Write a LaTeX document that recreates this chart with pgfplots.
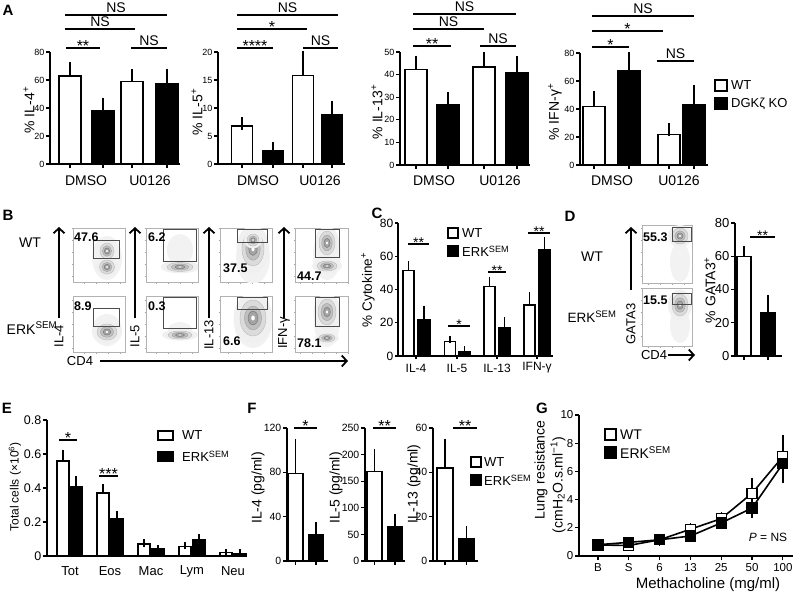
\documentclass[border=0pt]{standalone}
\usepackage{pgfplots}
\pgfplotsset{compat=1.18}
\usepackage{fontspec}
\setmainfont{Liberation Sans}
\usetikzlibrary{arrows.meta}
\newcommand{\fs}[1]{\fontsize{#1}{#1}\selectfont}
\pgfplotsset{
 gp/.style={scale only axis, clip=false, anchor=south west,
   axis x line*=bottom, axis y line*=left,
   axis line style={line width=1.6pt,-},
   tick style={line width=1.3pt,black},
   tick align=outside, major tick length=4pt,
   /pgf/number format/assume math mode=true,
   ymin=0, yticklabel style={inner sep=1.5pt}},
 wt/.style={ybar, bar shift=0pt, bar width=#1, draw=black, fill=white, line width=1.5pt,
   error bars/y dir=plus, error bars/y explicit,
   error bars/error bar style={line width=1.5pt,black,solid},
   error bars/error mark options={mark size={0.3*#1}, line width=1.5pt, black}},
 ko/.style={wt=#1, fill=black},
 flow/.style={scale only axis, anchor=south west,
   axis line style={line width=0.5pt, draw=gray!60},
   xtick distance=12, ytick distance=12, xticklabels={}, yticklabels={},
   xtick pos=left, ytick pos=left,
   tick style={gray!70, line width=0.5pt}, tick align=outside, major tick length=1.5pt},
}
\tikzset{bigarrow/.style={line width=1.8pt, -{Straight Barb[length=5pt,width=11pt,line width=1.8pt]}}}
% text helpers (pixel coordinates, y downwards)
\newcommand{\T}[4]{\node[font=\fs{#3}, inner sep=0pt] at (#1pt,-#2pt) {#4};}
\newcommand{\TB}[4]{\node[font=\fs{#3}\bfseries, inner sep=0pt] at (#1pt,-#2pt) {#4};}
\newcommand{\TL}[4]{\node[font=\fs{#3}, inner sep=0pt, anchor=west] at (#1pt,-#2pt) {#4};}
\newcommand{\TLB}[4]{\node[font=\fs{#3}\bfseries, inner sep=0pt, anchor=west] at (#1pt,-#2pt) {#4};}
\newcommand{\TR}[4]{\node[font=\fs{#3}, inner sep=0pt, rotate=90] at (#1pt,-#2pt) {#4};}
\newcommand{\sigNS}[4]{\draw[line width=1.5pt] (#1pt,-#3pt) -- (#2pt,-#3pt);
  \node[font=\fs{14}, anchor=base, inner sep=0pt] at ({(#1+#2)/2*1pt},{(-#3+3)*1pt}) {#4};}
\newcommand{\sigA}[5]{\draw[line width=1.5pt] (#1pt,-#3pt) -- (#2pt,-#3pt);
  \node[font=\fs{#4}, anchor=base, inner sep=0pt] at ({(#1+#2)/2*1pt},{(-#3+3-0.43*#4)*1pt}) {#5};}
\newcommand{\lbox}[5]{\draw[line width=1.3pt, fill=#5] (#1pt,-#2pt) rectangle (#3pt,-#4pt);}
% flow cytometry helpers
\newcommand{\blob}[4]{%
  \fill[gray!12] (axis cs:#1,-#2) ellipse [x radius={1.5*#3pt}, y radius={1.4*#4pt}];
  \filldraw[draw=gray!55, fill=gray!28, line width=0.4pt] (axis cs:#1,-#2) ellipse [x radius={#3pt}, y radius={#4pt}];
  \filldraw[draw=gray!75, fill=gray!50, line width=0.4pt] (axis cs:#1,-#2) ellipse [x radius={0.66*#3pt}, y radius={0.66*#4pt}];
  \filldraw[draw=gray!90!black, fill=gray!72, line width=0.4pt] (axis cs:#1,-#2) ellipse [x radius={0.38*#3pt}, y radius={0.38*#4pt}];
  \fill[white] (axis cs:#1,-#2) ellipse [x radius={0.14*#3pt}, y radius={0.14*#4pt}];}
\newcommand{\halo}[4]{\fill[gray!10] (axis cs:#1,-#2) ellipse [x radius={#3pt}, y radius={#4pt}];}
\newcommand{\gate}[4]{\addplot[draw=gray!60!black, line width=0.7pt] coordinates {(#1,-#2) (#3,-#2) (#3,-#4) (#1,-#4) (#1,-#2)};}

\begin{document}
\begin{tikzpicture}
\useasboundingbox (0pt,0pt) rectangle (800pt,-595pt);

% ================= A =================
\TB{8}{10}{15}{A}
% A1 IL-4
\begin{axis}[gp, at={(50pt,-164pt)}, width=130pt, height=112pt, xmin=50, xmax=180, ymax=80,
  ytick={0,20,40,60,80}, xtick={70,103,132,167}, xticklabels={}, tick label style={font=\fs{9}}]
\addplot[wt=22pt] coordinates {(70,63) +- (0,5) (132,59) +- (0,4)};
\addplot[ko=22pt] coordinates {(103,38) +- (0,4.5) (167,57.5) +- (0,6)};
\end{axis}
\TR{29}{110}{14}{\% IL-4\textsuperscript{+}}
\T{86}{181}{14}{DMSO} \T{150}{181}{14}{U0126}
\sigA{66}{100}{48}{16}{**}
\sigNS{131}{167}{48}{NS}
\sigNS{65}{135}{29}{NS}
\sigNS{65}{167}{15}{NS}

% A2 IL-5
\begin{axis}[gp, at={(218pt,-164pt)}, width=127pt, height=112pt, xmin=218, xmax=345, ymax=20,
  ytick={0,5,10,15,20}, xtick={242,273,303,332}, xticklabels={}, tick label style={font=\fs{9}}]
\addplot[wt=21pt] coordinates {(242,6.8) +- (0,0.4) (303,15.8) +- (0,3.2)};
\addplot[ko=21pt] coordinates {(273,2.4) +- (0,0.35) (332,8.8) +- (0,1.4)};
\end{axis}
\TR{197}{112}{14}{\% IL-5\textsuperscript{+}}
\T{258}{181}{14}{DMSO} \T{320}{181}{14}{U0126}
\sigA{237}{273}{48}{16}{****}
\sigNS{303}{338}{48}{NS}
\sigA{237}{307}{29}{16}{*}
\sigNS{237}{338}{15}{NS}

% A3 IL-13
\begin{axis}[gp, at={(400pt,-165pt)}, width=130pt, height=113pt, xmin=400, xmax=530, ymax=50,
  ytick={0,10,20,30,40,50}, xtick={416,448,484,517}, xticklabels={}, tick label style={font=\fs{9}}]
\addplot[wt=22pt] coordinates {(416,42.2) +- (0,3.3) (484,43.3) +- (0,3.7)};
\addplot[ko=22pt] coordinates {(448,26.6) +- (0,3) (517,41) +- (0,4.5)};
\end{axis}
\TR{377}{112}{14}{\% IL-13\textsuperscript{+}}
\T{434}{181}{14}{DMSO} \T{500}{181}{14}{U0126}
\sigA{413}{451}{46}{16}{**}
\sigNS{480}{516}{46}{NS}
\sigNS{413}{484}{29}{NS}
\sigNS{413}{516}{14}{NS}

% A4 IFN-g
\begin{axis}[gp, at={(580pt,-165pt)}, width=128pt, height=112pt, xmin=580, xmax=708, ymax=80,
  ytick={0,20,40,60,80}, xtick={594,629,669,694}, xticklabels={}, tick label style={font=\fs{9}}]
\addplot[wt=22pt] coordinates {(594,41.8) +- (0,6.2) (669,21.9) +- (0,3.5)};
\addplot[ko=22pt] coordinates {(629,67) +- (0,9) (694,42.8) +- (0,9.9)};
\end{axis}
\TR{555}{112}{14}{\% IFN-γ\textsuperscript{+}}
\T{612}{181}{14}{DMSO} \T{679}{181}{14}{U0126}
\sigA{592}{629}{47}{16}{*}
\sigNS{657}{694}{61}{NS}
\sigA{592}{663}{31}{16}{*}
\sigNS{592}{694}{16}{NS}
% A legend
\lbox{715}{80}{727}{91}{white} \TL{731}{85.5}{13}{WT}
\lbox{715}{98}{727}{109}{black} \TL{731}{103.5}{13}{DGKζ KO}

% ================= B =================
\TB{8}{215}{15}{B}
\T{30}{243}{14}{WT}
\T{32}{328}{14}{ERK\textsuperscript{SEM}}
% row 1
\begin{axis}[flow, at={(73pt,-282pt)}, width=52pt, height=54pt, xmin=73, xmax=125, ymin=-282, ymax=-228]
\halo{107}{258}{15}{22}
\blob{107}{251}{7}{8} \blob{107}{267}{7.5}{7}
\gate{93}{240}{119}{258}
\end{axis}
\begin{axis}[flow, at={(146pt,-282pt)}, width=52pt, height=54pt, xmin=146, xmax=198, ymin=-282, ymax=-228]
\halo{180}{250}{13}{16}
\blob{180}{267}{13}{4.5}
\gate{163}{229}{196}{261}
\end{axis}
\begin{axis}[flow, at={(220pt,-282pt)}, width=52pt, height=54pt, xmin=220, xmax=272, ymin=-282, ymax=-228]
\halo{253}{258}{17}{26}
\blob{253}{249}{11}{17} \blob{253}{240}{6}{6}
\gate{237}{229}{267}{242}
\end{axis}
\begin{axis}[flow, at={(295pt,-282pt)}, width=53pt, height=54pt, xmin=295, xmax=348, ymin=-282, ymax=-228]
\halo{327}{255}{14}{25}
\blob{327}{243}{8}{12} \blob{327}{266}{10}{5}
\gate{315}{229}{339}{257}
\end{axis}
% row 2
\begin{axis}[flow, at={(73pt,-352pt)}, width=52pt, height=56pt, xmin=73, xmax=125, ymin=-352, ymax=-296]
\halo{107}{330}{15}{16}
\blob{107}{332}{10}{8}
\gate{93}{308}{119}{326}
\end{axis}
\begin{axis}[flow, at={(146pt,-352pt)}, width=52pt, height=56pt, xmin=146, xmax=198, ymin=-352, ymax=-296]
\halo{180}{330}{12}{8}
\blob{180}{335}{12}{4}
\gate{163}{297}{196}{328}
\end{axis}
\begin{axis}[flow, at={(220pt,-352pt)}, width=52pt, height=56pt, xmin=220, xmax=272, ymin=-352, ymax=-296]
\halo{253}{322}{19}{26}
\blob{253}{318}{13}{18}
\gate{237}{297}{267}{309}
\end{axis}
\begin{axis}[flow, at={(295pt,-352pt)}, width=53pt, height=56pt, xmin=295, xmax=348, ymin=-352, ymax=-296]
\halo{327}{322}{13}{25}
\blob{327}{312}{9}{13} \blob{327}{338}{8}{4}
\gate{315}{297}{339}{326}
\end{axis}
\TLB{74}{237}{12.5}{47.6} \TLB{148}{237}{12.5}{6.2} \TLB{223}{268}{12.5}{37.5} \TLB{297}{276}{12.5}{44.7}
\TLB{74}{306}{12.5}{8.9} \TLB{148}{306}{12.5}{0.3} \TLB{223}{341}{12.5}{6.6} \TLB{297}{343}{12.5}{78.1}
\foreach \ax in {59,135,209,284}{\draw[bigarrow] (\ax pt,-318pt) -- (\ax pt,-227pt);}
\TR{59}{336}{13}{IL-4} \TR{135}{336}{13}{IL-5} \TR{209}{335}{13}{IL-13} \TR{284}{333}{13}{IFN-γ}
\T{80}{361}{13}{CD4}
\draw[bigarrow] (100pt,-361pt) -- (348pt,-361pt);

% ================= C =================
\TB{377}{213}{15}{C}
\begin{axis}[gp, at={(398pt,-356pt)}, width=155pt, height=133pt, xmin=398, xmax=553, ymax=80,
  ytick={0,20,40,60,80}, xtick={416,457,497,537}, xticklabels={}, tick label style={font=\fs{12}},
  major tick length=3pt]
\addplot[wt=11pt] coordinates {(408.5,51.3) +- (0,3.6) (450,8.6) +- (0,1.4) (489.5,41.8) +- (0,4) (529.5,30.8) +- (0,6)};
\addplot[ko=12pt] coordinates {(424,21.7) +- (0,6.4) (464.5,2.6) +- (0,1) (504.5,16.7) +- (0,4.6) (544.5,63.9) +- (0,5.4)};
\end{axis}
\TR{368}{290}{13.5}{\% Cytokine\textsuperscript{+}}
\T{416}{368}{12}{IL-4} \T{457}{368}{12}{IL-5} \T{497}{368}{12}{IL-13} \T{537}{368}{12}{IFN-γ}
\sigA{408}{429}{244}{14}{**}
\sigA{448}{470}{326}{14}{*}
\sigA{488}{506}{272}{14}{**}
\sigA{528}{550}{233}{14}{**}
\lbox{448}{228}{458}{238}{white} \TL{462}{233}{13}{WT}
\lbox{448}{246}{458}{256}{black} \TL{462}{251}{13}{ERK\textsuperscript{SEM}}

% ================= D =================
\TB{570}{216}{15}{D}
\T{592}{257}{14}{WT}
\T{592}{317}{13.5}{ERK\textsuperscript{SEM}}
\begin{axis}[flow, at={(642pt,-283pt)}, width=50pt, height=58pt, xmin=642, xmax=692, ymin=-283, ymax=-225]
\halo{680}{262}{10}{20}
\blob{680}{236}{8}{8}
\gate{672}{227}{691}{241}
\end{axis}
\begin{axis}[flow, at={(642pt,-346pt)}, width=50pt, height=58pt, xmin=642, xmax=692, ymin=-346, ymax=-288]
\halo{680}{325}{10}{18}
\blob{680}{305}{8}{11}
\gate{672}{293}{691}{304}
\end{axis}
\TLB{643}{237}{12.5}{55.3} \TLB{643}{300}{12.5}{15.5}
\draw[bigarrow] (631pt,-290pt) -- (631pt,-227pt);
\TR{631}{324}{13}{GATA3}
\T{654}{355}{13}{CD4}
\draw[bigarrow] (668pt,-355pt) -- (695pt,-355pt);
\begin{axis}[gp, at={(735pt,-356pt)}, width=47pt, height=133pt, xmin=735, xmax=782, ymax=80,
  ytick={0,20,40,60,80}, xtick={744,768}, xticklabels={}, tick label style={font=\fs{13}}]
\addplot[wt=14pt] coordinates {(744,59.9) +- (0,3.6)};
\addplot[ko=14pt] coordinates {(768,26.3) +- (0,7.9)};
\end{axis}
\TR{710}{290}{14}{\% GATA3\textsuperscript{+}}
\sigA{750}{775}{237}{14}{**}

% ================= E =================
\TB{7}{408}{15}{E}
\begin{axis}[gp, at={(47pt,-556pt)}, width=200pt, height=136pt, xmin=47, xmax=247, ymax=0.8,
  ytick={0,0.2,0.4,0.6,0.8}, xtick=\empty, tick label style={font=\fs{12.5}}]
\addplot[wt=12pt] coordinates {(63,0.56) +- (0,0.04) (103,0.37) +- (0,0.03) (144,0.07) +- (0,0.006) (185,0.055) +- (0,0.006) (226,0.02) +- (0,0.002)};
\addplot[ko=12pt] coordinates {(76,0.41) +- (0,0.04) (117,0.22) +- (0,0.025) (158,0.04) +- (0,0.005) (199,0.095) +- (0,0.013) (240,0.015) +- (0,0.003)};
\end{axis}
\TR{15}{487}{12}{Total cells (×10\textsuperscript{6})}
\T{70}{571}{13}{Tot} \T{110}{571}{13}{Eos} \T{151}{571}{13}{Mac} \T{192}{571}{13}{Lym} \T{233}{571}{13}{Neu}
\sigA{59}{77}{440}{16}{*}
\sigA{99}{118}{476}{16}{***}
\lbox{158}{431}{173}{440}{white} \TL{182}{435.5}{13}{WT}
\lbox{158}{452}{173}{461}{black} \TL{182}{456.5}{13}{ERK\textsuperscript{SEM}}

% ================= F =================
\TB{252}{408}{15}{F}
\begin{axis}[gp, at={(287pt,-561pt)}, width=41pt, height=133pt, xmin=287, xmax=328, ymax=120,
  ytick={0,40,80,120}, xtick={295.5,316}, xticklabels={}, tick label style={font=\fs{10.5}}]
\addplot[wt=15pt] coordinates {(295.5,79) +- (0,27)};
\addplot[ko=15pt] coordinates {(316,24) +- (0,7)};
\end{axis}
\begin{axis}[gp, at={(365pt,-561pt)}, width=40pt, height=133pt, xmin=365, xmax=405, ymax=250,
  ytick={0,50,100,150,200,250}, xtick={374.5,395}, xticklabels={}, tick label style={font=\fs{10.5}}]
\addplot[wt=15pt] coordinates {(374.5,168) +- (0,34)};
\addplot[ko=15pt] coordinates {(395,64) +- (0,15)};
\end{axis}
\begin{axis}[gp, at={(433pt,-561pt)}, width=45pt, height=133pt, xmin=433, xmax=478, ymax=60,
  ytick={0,20,40,60}, xtick={445,466.5}, xticklabels={}, tick label style={font=\fs{10.5}}]
\addplot[wt=16pt] coordinates {(445,42) +- (0,11)};
\addplot[ko=16pt] coordinates {(466.5,10) +- (0,3.5)};
\end{axis}
\TR{258}{488}{14}{IL-4 (pg/ml)} \TR{336}{488}{14}{IL-5 (pg/ml)} \TR{414}{484}{14}{IL-13 (pg/ml)}
\sigA{294}{317}{428}{16}{*}
\sigA{373}{396}{428}{16}{**}
\sigA{453}{477}{428}{16}{**}
\lbox{471}{457}{481}{467}{white} \TL{484}{462}{13}{WT}
\lbox{471}{475}{481}{485}{black} \TL{484}{480}{13}{ERK\textsuperscript{SEM}}

% ================= G =================
\TB{542}{408}{15}{G}
\begin{axis}[gp, at={(579pt,-556pt)}, width=214pt, height=141pt, xmin=-0.617, xmax=6.33, ymax=10,
  ytick={0,2,4,6,8,10}, xtick={0,1,2,3,4,5,6}, xticklabels={B,S,6,13,25,50,100},
  tick label style={font=\fs{11.5}}]
\addplot[line width=1.6pt, black, mark=square*, mark size=5pt, mark options={fill=white, line width=1.3pt},
  error bars/y dir=both, error bars/y explicit,
  error bars/error bar style={line width=1.4pt,black},
  error bars/error mark options={mark size=5pt, line width=1.4pt, black}]
  coordinates {(0,0.78) +- (0,0.05) (1,0.75) +- (0,0.05) (2,1.15) +- (0,0.05) (3,1.9) +- (0,0.1) (4,2.65) +- (0,0.1) (5,4.45) +- (0,0.75) (6,7.05) +- (0,1.15)};
\addplot[line width=1.6pt, black, mark=square*, mark size=5pt, mark options={fill=black, line width=1.3pt},
  error bars/y dir=both, error bars/y explicit,
  error bars/error bar style={line width=1.4pt,black},
  error bars/error mark options={mark size=5pt, line width=1.4pt, black}]
  coordinates {(0,0.8) +- (0,0.05) (1,0.97) +- (0,0.05) (2,1.15) +- (0,0.05) (3,1.42) +- (0,0.1) (4,2.35) +- (0,0.1) (5,3.4) +- (0,0.35) (6,6.55) +- (0,1.05)};
\end{axis}
\TR{541}{470}{14}{Lung resistance}
\TR{558}{485}{14}{(cmH\textsubscript{2}O.s.ml\textsuperscript{−1})}
\T{708}{585}{15}{Methacholine (mg/ml)}
\lbox{605}{429}{616}{440}{white} \TL{620}{434.5}{14}{WT}
\lbox{605}{447}{616}{458}{black} \TL{620}{452.5}{14}{ERK\textsuperscript{SEM}}
\T{768}{537}{12}{\textit{P} = NS}
\end{tikzpicture}
\end{document}
